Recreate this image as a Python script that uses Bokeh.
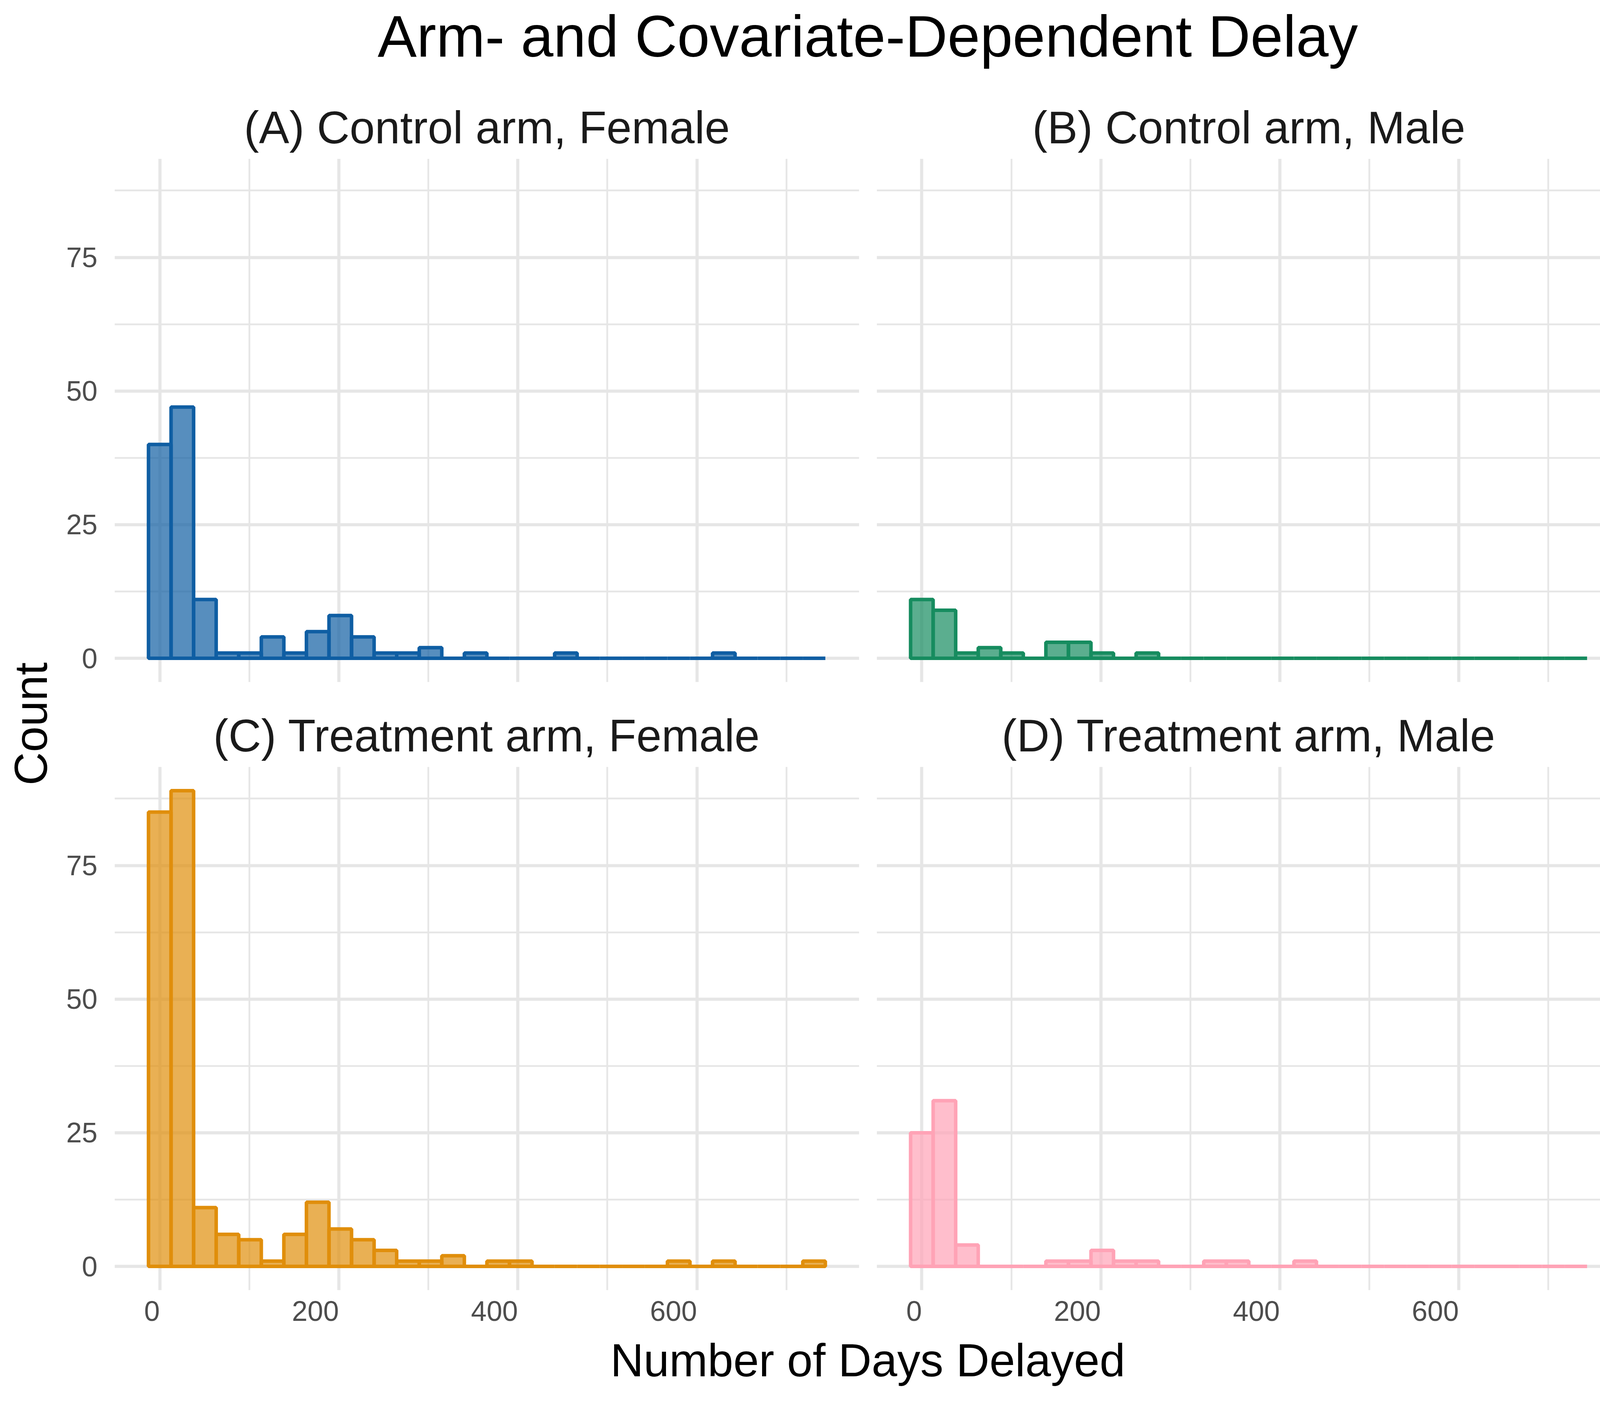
import numpy as np
from bokeh.plotting import figure
from bokeh.layouts import column, row
from bokeh.models import Range1d, FixedTicker, Label
from bokeh.embed import file_html
from bokeh.resources import INLINE

# ---------------- data ----------------
BIN_START = -12.6
BIN_WIDTH = 25.2
N_BINS = 30

panel_titles = ["(A) Control arm, Female", "(B) Control arm, Male",
                "(C) Treatment arm, Female", "(D) Treatment arm, Male"]

counts_A = [40, 47, 11, 1, 1, 4, 1, 5, 8, 4, 1, 1, 2, 0, 1, 0, 0, 0, 1, 0,
            0, 0, 0, 0, 0, 1, 0, 0, 0, 0]
counts_B = [11, 9, 1, 2, 1, 0, 3, 3, 1, 0, 1, 0, 0, 0, 0, 0, 0, 0, 0, 0,
            0, 0, 0, 0, 0, 0, 0, 0, 0, 0]
counts_C = [85, 89, 11, 6, 5, 1, 6, 12, 7, 5, 3, 1, 1, 2, 0, 1, 1, 0, 0, 0,
            0, 0, 0, 1, 0, 1, 0, 0, 0, 1]
counts_D = [25, 31, 4, 0, 0, 0, 1, 1, 3, 1, 1, 0, 0, 1, 1, 0, 0, 1, 0, 0,
            0, 0, 0, 0, 0, 0, 0, 0, 0, 0]

colors = ["#0F5EA3", "#168C5F", "#E08E0B", "#FFA3B6"]

x_ticks = [0, 200, 400, 600]
x_minor = [100, 300, 500, 700]
y_ticks = [0, 25, 50, 75]
y_minor = [12.5, 37.5, 62.5, 87.5]

title_text = "Arm- and Covariate-Dependent Delay"
x_label = "Number of Days Delayed"
y_label = "Count"

# ---------------- derived ----------------
edges = BIN_START + BIN_WIDTH * np.arange(N_BINS + 1)
x_lo = edges[0] - 0.05 * (edges[-1] - edges[0])
x_hi = edges[-1] + 0.05 * (edges[-1] - edges[0])
ymax = max(max(counts_A), max(counts_B), max(counts_C), max(counts_D))
y_lo, y_hi = -0.05 * ymax, ymax * 1.05

FONT = "Liberation Sans"
GRID = "#E6E6E6"
TICK_COL = "#4D4D4D"
TICK_PX = 72
DIGIT_EM = 0.556

TOTAL_W, TOTAL_H = 4184, 3584
TITLE_H = 230
YLAB_W = 160
FH = 1340


def panel(title, counts, color, lb, fw, rb, tb, bb, show_x, show_y):
    p = figure(width=lb + fw + rb, height=tb + FH + bb,
               x_range=Range1d(x_lo, x_hi), y_range=Range1d(y_lo, y_hi),
               output_backend="svg", toolbar_location=None,
               x_axis_location="below" if show_x else None,
               y_axis_location="left" if show_y else None,
               min_border_left=lb, min_border_right=rb,
               min_border_top=tb, min_border_bottom=bb,
               title=title)
    p.outline_line_color = None
    p.background_fill_color = "white"
    p.border_fill_color = "white"
    p.title.align = "center"
    p.title.text_font = FONT
    p.title.text_font_size = "116px"
    p.title.text_font_style = "normal"
    p.title.text_color = "#1A1A1A"
    p.title.standoff = 30

    p.xgrid.ticker = FixedTicker(ticks=x_ticks, minor_ticks=x_minor)
    p.ygrid.ticker = FixedTicker(ticks=y_ticks, minor_ticks=y_minor)
    for g in (p.xgrid, p.ygrid):
        g.grid_line_color = GRID
        g.grid_line_width = 8
        g.minor_grid_line_color = GRID
        g.minor_grid_line_width = 4.5

    if show_x:
        # tick labels sit right-aligned to their tick (as in the reference):
        # the label anchor is moved left by half the label's width
        px_per_day = fw / (x_hi - x_lo)
        pos, overrides = [], {}
        for t in x_ticks:
            lab = str(t)
            half_px = len(lab) * DIGIT_EM * TICK_PX / 2.0
            s = round(t - half_px / px_per_day, 3)
            pos.append(s)
            overrides[s] = lab
        ax = p.xaxis[0]
        ax.ticker = FixedTicker(ticks=pos, minor_ticks=[])
        ax.major_label_overrides = overrides
    if show_y:
        p.yaxis[0].ticker = FixedTicker(ticks=y_ticks, minor_ticks=y_minor)
    for ax in list(p.xaxis) + list(p.yaxis):
        ax.axis_line_color = None
        ax.major_tick_line_color = None
        ax.minor_tick_line_color = None
        ax.major_tick_in = 0
        ax.major_tick_out = 0
        ax.major_label_text_font = FONT
        ax.major_label_text_font_size = "%dpx" % TICK_PX
        ax.major_label_text_color = TICK_COL
    for ax in p.xaxis:
        ax.major_label_standoff = 28
    for ax in p.yaxis:
        ax.major_label_standoff = 40

    p.quad(left=edges[:-1], right=edges[1:], bottom=0, top=counts,
           fill_color=color, fill_alpha=0.7, line_color=color, line_width=9)
    return p


LB_L, FW_L, RB_L = 133, 1906, 22
LB_R, FW_R, RB_R = 23, 1905, 35
TB1, BB1 = 176, 20
TB2, BB2 = 197, 110

pA = panel(panel_titles[0], counts_A, colors[0], LB_L, FW_L, RB_L, TB1, BB1, False, True)
pB = panel(panel_titles[1], counts_B, colors[1], LB_R, FW_R, RB_R, TB1, BB1, False, False)
pC = panel(panel_titles[2], counts_C, colors[2], LB_L, FW_L, RB_L, TB2, BB2, True, True)
pD = panel(panel_titles[3], counts_D, colors[3], LB_R, FW_R, RB_R, TB2, BB2, True, False)

MID_H = (TB1 + FH + BB1) + (TB2 + FH + BB2)
XLAB_H = TOTAL_H - TITLE_H - MID_H


def blank(w, h):
    f = figure(width=w, height=h, x_range=Range1d(0, w), y_range=Range1d(0, h),
               output_backend="svg", toolbar_location=None,
               x_axis_location=None, y_axis_location=None,
               min_border_left=0, min_border_right=0,
               min_border_top=0, min_border_bottom=0)
    f.title = None
    f.outline_line_color = None
    f.xgrid.visible = False
    f.ygrid.visible = False
    f.border_fill_color = "white"
    return f


center_x = YLAB_W + LB_L + (FW_L + RB_L + LB_R + FW_R) / 2.0

ptitle = blank(TOTAL_W, TITLE_H)
ptitle.add_layout(Label(x=center_x, y=TITLE_H - 92.5, text=title_text,
                        text_align="center", text_baseline="middle",
                        text_font=FONT, text_font_size="150px",
                        text_color="black"))

pylab = blank(YLAB_W, MID_H)
pylab.add_layout(Label(x=78.5, y=MID_H - 1623, text=y_label, angle=np.pi / 2,
                       text_align="center", text_baseline="middle",
                       text_font=FONT, text_font_size="118px",
                       text_color="black"))

pxlab = blank(TOTAL_W, XLAB_H)
pxlab.add_layout(Label(x=center_x, y=XLAB_H - 69, text=x_label,
                       text_align="center", text_baseline="middle",
                       text_font=FONT, text_font_size="118px",
                       text_color="black"))

layout = column(ptitle,
                row(pylab, column(row(pA, pB), row(pC, pD))),
                pxlab)

open("out.html", "w").write(file_html(layout, INLINE))
